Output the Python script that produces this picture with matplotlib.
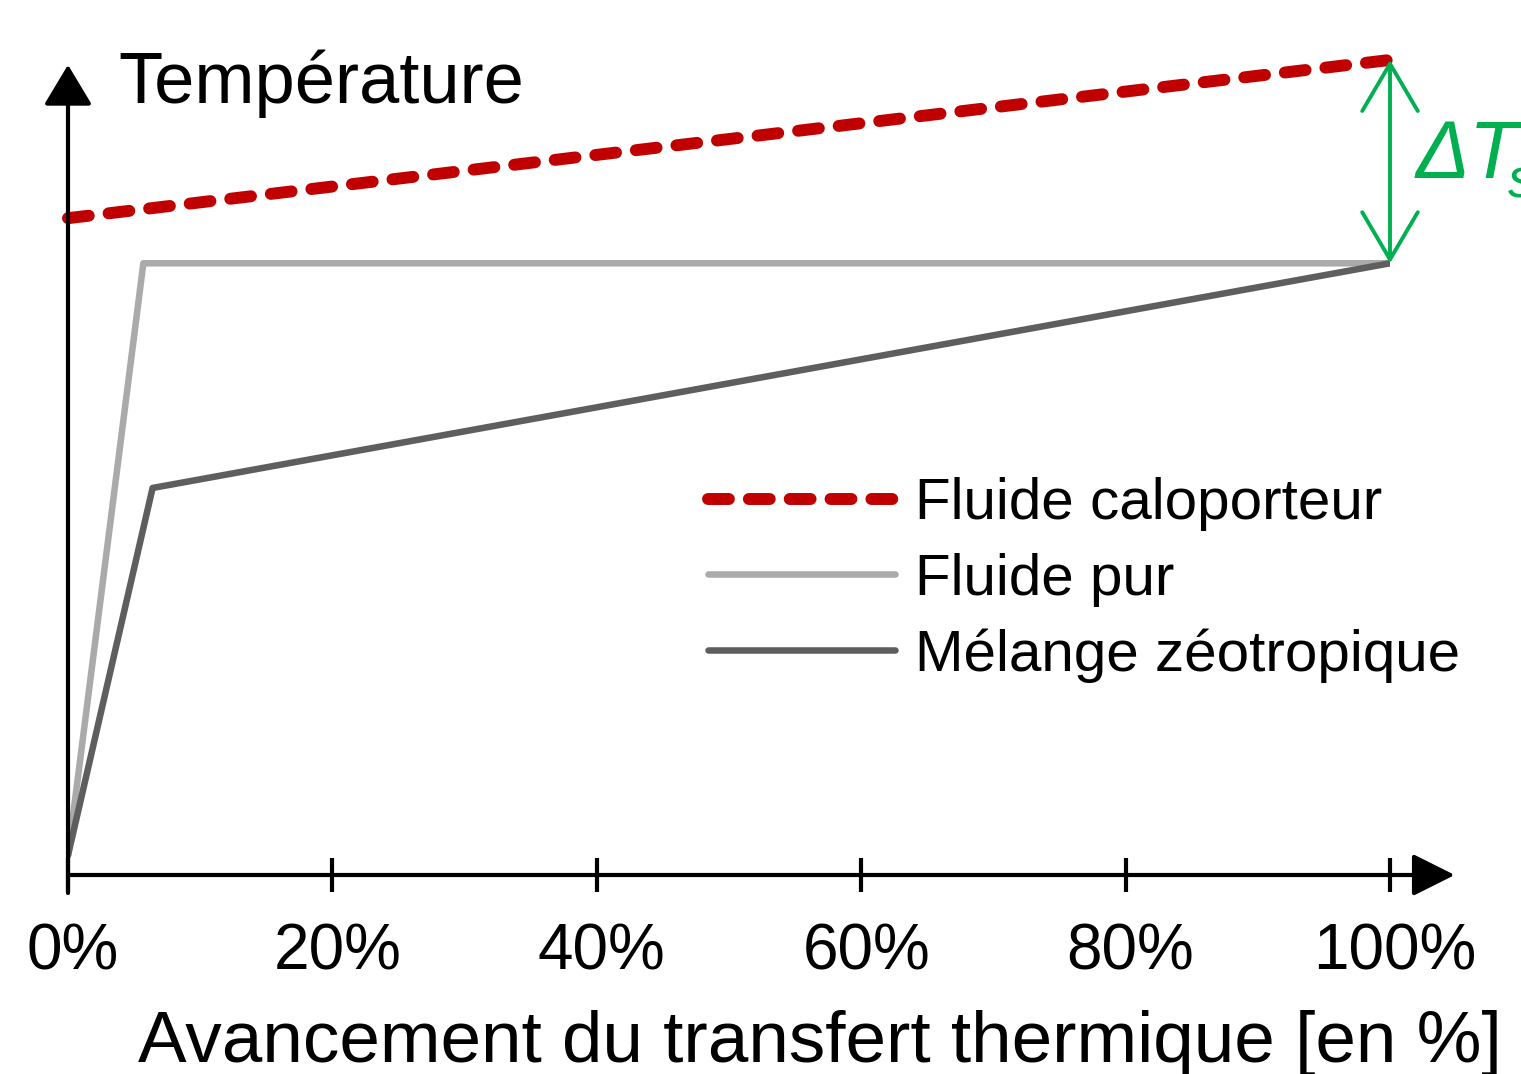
import matplotlib
matplotlib.use("Agg")
import matplotlib.pyplot as plt
import matplotlib.transforms as mtransforms
from matplotlib.patches import FancyArrowPatch

plt.rcParams['font.family'] = ['Liberation Sans', 'DejaVu Sans']

# data (arbitrary temperature units)
x_calo = [0, 100]
y_calo = [80.1, 99.4]
x_pur = [0, 5.7, 100]
y_pur = [2.4, 74.6, 74.6]
x_zeo = [0, 6.4, 100]
y_zeo = [2.4, 47.2, 74.6]
xticks = [0, 20, 40, 60, 80, 100]
xticklabels = ['0%', '20%', '40%', '60%', '80%', '100%']
labels = ['Fluide caloporteur', 'Fluide pur', 'Mélange zéotropique']

W, H = 1521, 1074
fig = plt.figure(figsize=(W/100, H/100), dpi=100)
ax = fig.add_axes([68/W, (H-875)/H, 1322/W, 820/H])
ax.set_xlim(0, 100)
ax.set_ylim(0, 100)
for s in ax.spines.values():
    s.set_visible(False)
ax.set_yticks([])
ax.set_xticks(xticks)
ax.set_xticklabels(xticklabels, fontsize=46)
ax.tick_params(axis='x', direction='inout', length=25, width=3, pad=22)
shift = mtransforms.ScaledTranslation(5/100, 0, fig.dpi_scale_trans)
for lab in ax.get_xticklabels():
    lab.set_transform(lab.get_transform() + shift)

red = '#c00000'
l1, = ax.plot(x_calo, y_calo, color=red, lw=8.6, dashes=(1.75, 1.67),
              dash_capstyle='round', clip_on=False, zorder=4)
l2, = ax.plot(x_pur, y_pur, color='#aaaaaa', lw=4.7, solid_capstyle='round', zorder=3)
l3, = ax.plot(x_zeo, y_zeo, color='#5e5e5e', lw=4.7, solid_capstyle='round', zorder=3)

# axes arrows
ax.add_patch(FancyArrowPatch((0, -2.2), (0, 98.8), arrowstyle='-|>,head_length=2.5,head_width=1.5',
                             mutation_scale=10, color='black', lw=3, clip_on=False,
                             shrinkA=0, shrinkB=0, zorder=5))
ax.add_patch(FancyArrowPatch((0, 0), (104.9, 0), arrowstyle='-|>,head_length=2.6,head_width=1.3',
                             mutation_scale=10, color='black', lw=3, clip_on=False,
                             shrinkA=0, shrinkB=0, zorder=5))

# delta T arrow
green = '#00b050'
ax.add_patch(FancyArrowPatch((100, 74.6), (100, 99.4), arrowstyle='<->,head_length=3.4,head_width=2.0',
                             mutation_scale=10, color=green, lw=2.8, clip_on=False,
                             shrinkA=0, shrinkB=0, zorder=6))
fig.text(1416/W, 1 - 178/H, 'ΔT', color=green, fontsize=58, style='italic',
         ha='left', va='baseline')
fig.text(1508/W, 1 - 197/H, 's', color=green, fontsize=40, style='italic',
         ha='left', va='baseline')

fig.text(118/W, 1 - 103/H, 'Température', fontsize=52, ha='left', va='baseline')
fig.text(820/W, 1 - 1062/H, 'Avancement du transfert thermique [en %]', fontsize=52.5,
         ha='center', va='baseline')

leg = fig.legend([l1, l2, l3], labels, loc='center left',
                 bbox_to_anchor=(708/W, 1 - 580/H), frameon=False, fontsize=42,
                 handlelength=3.2, handletextpad=0.35, labelspacing=0.37,
                 borderpad=0, borderaxespad=0)

fig.savefig('out.png', dpi=100)
